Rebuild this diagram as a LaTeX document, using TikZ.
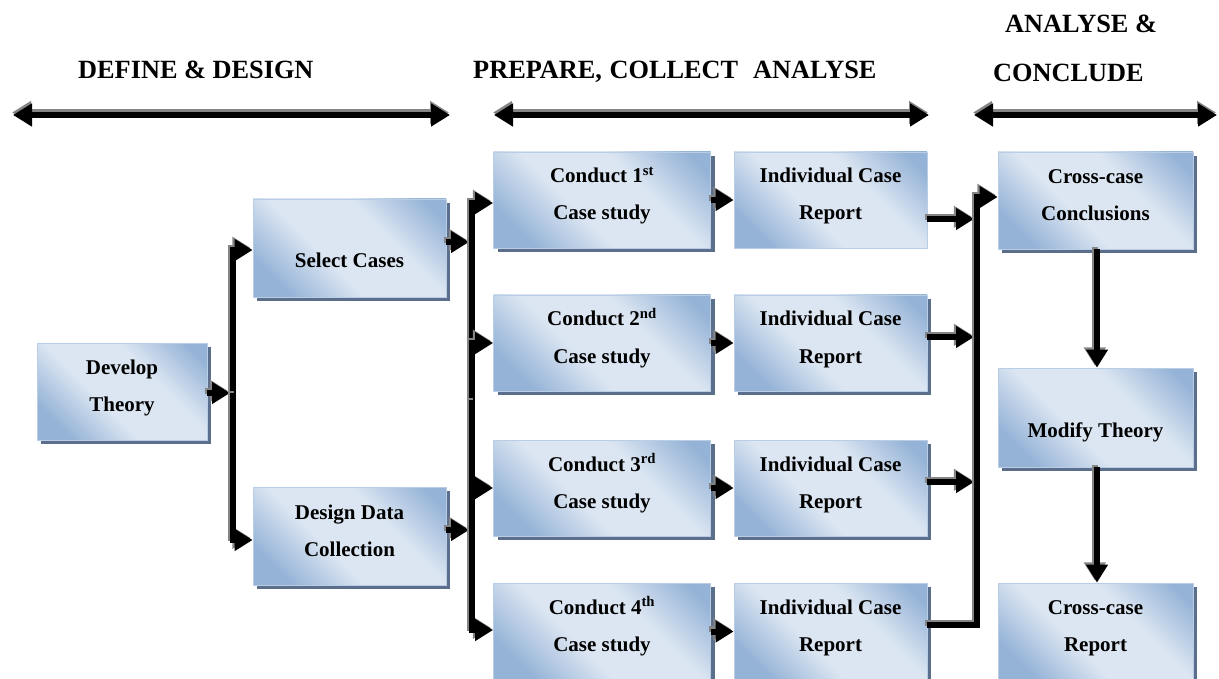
\documentclass[tikz,border=0pt]{standalone}
\usepackage{fontspec}
\setmainfont{Liberation Serif}
\usetikzlibrary{arrows.meta,shadows}

\definecolor{boxlight}{HTML}{DCE6F2}
\definecolor{boxdark}{HTML}{95B3D7}
\definecolor{boxedge}{HTML}{B9CDE5}
\definecolor{boxshadow}{HTML}{5B6F8C}
\definecolor{linkshadow}{HTML}{858585}

\pgfdeclarehorizontalshading{boxshade}{100bp}{%
  color(0bp)=(boxdark); color(24bp)=(boxdark); color(42bp)=(boxlight);
  color(62bp)=(boxlight); color(80bp)=(boxdark); color(100bp)=(boxdark)}

\tikzset{
  stage/.style={draw=boxedge, line width=0.8pt, shading=boxshade, shading angle=45,
    inner sep=0pt, general shadow={fill=boxshadow, shadow xshift=4pt, shadow yshift=-4pt}},
  flatstage/.style={draw=boxedge, line width=0.8pt, shading=boxshade, shading angle=45,
    inner sep=0pt},
  lbl/.style={anchor=base, inner sep=0pt, font=\fontsize{21}{25}\selectfont\bfseries},
  head/.style={anchor=base west, inner sep=0pt, font=\fontsize{26.3}{30}\selectfont\bfseries},
  conn/.style={line width=6pt, black, line join=miter,
    preaction={draw=linkshadow, line width=6pt, transform canvas={shift={(-2.2pt,2.2pt)}}}},
  arr/.style={conn, -{Triangle[length=18pt,width=21pt]}},
  span/.style={line width=6pt, black,
    {Triangle[length=19pt,width=22pt]}-{Triangle[length=19pt,width=22pt]},
    preaction={draw=linkshadow, line width=6pt, transform canvas={shift={(-1pt,2.5pt)}}}},
}

\begin{document}
\begin{tikzpicture}[x=1pt,y=-1pt]
\useasboundingbox (0,0) rectangle (1219,679);

% phase headings
\node[head] (h1) at (78,79) {DEFINE \& DESIGN};
\node[head] (h2) at (473,79) {PREPARE,\hspace{1pt} COLLECT\hspace{15pt}ANALYSE};
\node[head] (h3a) at (1005,33) {ANALYSE \&};
\node[head] (h3b) at (993,82) {CONCLUDE};

% phase spans
\coordinate (s1a) at (13,115);   \coordinate (s1b) at (450,115);
\coordinate (s2a) at (494,115);  \coordinate (s2b) at (929,115);
\coordinate (s3a) at (974,115);  \coordinate (s3b) at (1217,115);
\draw[span] (s1a) -- (s1b);
\draw[span] (s2a) -- (s2b);
\draw[span] (s3a) -- (s3b);

% stage boxes
\node[stage, minimum width=170pt, minimum height=97pt] (dt) at (122,391.5) {};
\node[stage, minimum width=193pt, minimum height=98pt] (sc) at (349.5,248) {};
\node[stage, minimum width=193pt, minimum height=98pt] (dd) at (349.5,536) {};

\node[stage, minimum width=217pt, minimum height=96pt] (c1) at (602,200) {};
\node[stage, minimum width=217pt, minimum height=96pt] (c2) at (602,343) {};
\node[stage, minimum width=217pt, minimum height=96pt] (c3) at (602,488) {};
\node[stage, minimum width=217pt, minimum height=97pt] (c4) at (602,631.5) {};

\node[flatstage, minimum width=193pt, minimum height=96pt] (ic1) at (830.5,200) {};
\node[stage, minimum width=193pt, minimum height=96pt] (ic2) at (830.5,343) {};
\node[stage, minimum width=193pt, minimum height=96pt] (ic3) at (830.5,488) {};
\node[stage, minimum width=193pt, minimum height=97pt] (ic4) at (830.5,631.5) {};

\node[stage, minimum width=195pt, minimum height=97pt] (cc) at (1095.5,200.5) {};
\node[stage, minimum width=195pt, minimum height=99pt] (mt) at (1095.5,417.5) {};
\node[stage, minimum width=195pt, minimum height=97pt] (cr) at (1095.5,631.5) {};

% box texts
\node[lbl] (dt1) at ([yshift=17pt]dt.center) {Develop};
\node[lbl] (dt2) at ([yshift=-20pt]dt.center) {Theory};
\node[lbl] (sc1) at ([yshift=-20pt]sc.center) {Select Cases};
\node[lbl] (dd1) at ([yshift=17pt]dd.center) {Design Data};
\node[lbl] (dd2) at ([yshift=-20pt]dd.center) {Collection};

\node[lbl] (c1a) at ([yshift=17pt]c1.center) {Conduct 1\textsuperscript{st}};
\node[lbl] (c1b) at ([yshift=-20pt]c1.center) {Case study};
\node[lbl] (c2a) at ([yshift=17pt]c2.center) {Conduct 2\textsuperscript{nd}};
\node[lbl] (c2b) at ([yshift=-20pt]c2.center) {Case study};
\node[lbl] (c3a) at ([yshift=17pt]c3.center) {Conduct 3\textsuperscript{rd}};
\node[lbl] (c3b) at ([yshift=-20pt]c3.center) {Case study};
\node[lbl] (c4a) at ([yshift=17pt]c4.center) {Conduct 4\textsuperscript{th}};
\node[lbl] (c4b) at ([yshift=-20pt]c4.center) {Case study};

\foreach \r in {1,2,3,4}{
  \node[lbl] (ic\r a) at ([yshift=17pt]ic\r.center) {Individual Case};
  \node[lbl] (ic\r b) at ([yshift=-20pt]ic\r.center) {Report};
}

\node[lbl] (cc1) at ([yshift=17pt]cc.center) {Cross-case};
\node[lbl] (cc2) at ([yshift=-20pt]cc.center) {Conclusions};
\node[lbl] (mt1) at ([yshift=-20pt]mt.center) {Modify Theory};
\node[lbl] (cr1) at ([yshift=17pt]cr.center) {Cross-case};
\node[lbl] (cr2) at ([yshift=-20pt]cr.center) {Report};

% bus junctions
\coordinate (lb) at (233,393);
\coordinate (mb) at (472,400);
\coordinate (rb) at (977,400);

% define & design links
\draw[arr, shorten >=3pt] ([yshift=-1.5pt]dt.east) -- ([yshift=-1.5pt]dt.east -| lb);
\draw[arr] (lb) |- ([yshift=-2pt]sc.west);
\draw[arr] (lb) |- ([yshift=-4pt]dd.west);

% case selection into the conduct stages
\draw[arr, shorten >=3pt] ([yshift=6pt]sc.east) -- ([yshift=6pt]sc.east -| mb);
\draw[arr, shorten >=3pt] ([yshift=6pt]dd.east) -- ([yshift=6pt]dd.east -| mb);
\draw[arr] (mb) |- ([yshift=-3pt]c1.west);
\draw[arr] (mb) |- (c2.west);
\draw[arr] (mb) |- (c3.west);
\draw[arr] (mb) |- ([yshift=1.5pt]c4.west);

% conduct to individual reports
\draw[arr] (c1) -- (ic1);
\draw[arr] (c2) -- (ic2);
\draw[arr] (c3) -- (ic3);
\draw[arr] (c4) -- (ic4);

% individual reports to cross-case conclusions
\draw[arr, shorten >=3pt] ([yshift=-19pt]ic1.east) -- ([yshift=-19pt]ic1.east -| rb);
\draw[arr, shorten >=3pt] ([yshift=6pt]ic2.east) -- ([yshift=6pt]ic2.east -| rb);
\draw[arr, shorten >=3pt] ([yshift=6pt]ic3.east) -- ([yshift=6pt]ic3.east -| rb);
\draw[arr] ([yshift=6.5pt]ic4.east) -| (rb) |- ([yshift=3.5pt]cc.west);

% conclusions, modified theory and report
\draw[arr] ([xshift=1.5pt]cc.south) -- ([xshift=1.5pt]mt.north);
\draw[arr] ([xshift=1.5pt]mt.south) -- ([xshift=1.5pt]cr.north);
\end{tikzpicture}
\end{document}
